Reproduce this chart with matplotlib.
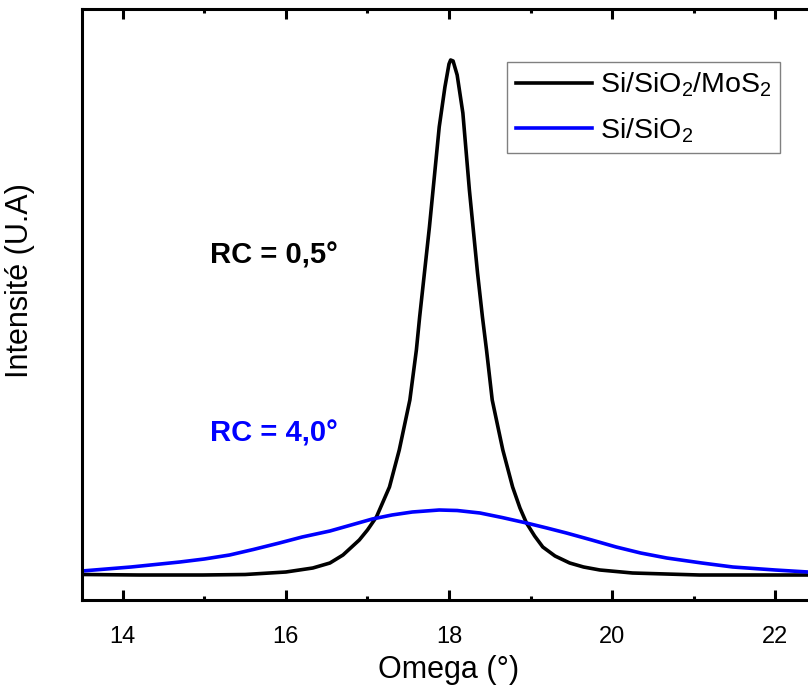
import matplotlib
matplotlib.use("Agg")
import matplotlib.pyplot as plt
from matplotlib.ticker import MultipleLocator, NullLocator

plt.rcParams["font.family"] = ["Liberation Sans", "DejaVu Sans"]
plt.rcParams["mathtext.fontset"] = "custom"
plt.rcParams["mathtext.rm"] = "Liberation Sans"
plt.rcParams["mathtext.it"] = "Liberation Sans:italic"
plt.rcParams["mathtext.bf"] = "Liberation Sans:bold"

# rocking curves (omega in degrees, intensity in a.u.)
omega_mos2 = [13.50, 14.20, 14.98, 15.50, 16.00, 16.33, 16.54, 16.70, 16.90, 17.00,
              17.11, 17.27, 17.39, 17.52, 17.60, 17.64, 17.70, 17.76, 17.82, 17.88,
              17.95, 18.00, 18.02, 18.05, 18.10, 18.17, 18.25, 18.35, 18.41, 18.46,
              18.53, 18.60, 18.66, 18.78, 18.87, 18.95, 19.05, 19.15, 19.30, 19.48,
              19.65, 19.85, 20.25, 21.07, 22.50]
int_mos2 = [255, 250, 250, 255, 280, 320, 370, 450, 600, 700,
            830, 1130, 1500, 2000, 2500, 2830, 3280, 3730, 4230, 4730,
            5130, 5360, 5400, 5390, 5250, 4870, 4100, 3270, 2830, 2500,
            2000, 1730, 1500, 1130, 920, 770, 640, 530, 440, 370,
            330, 300, 270, 250, 250]

omega_sio2 = [13.50, 14.10, 14.70, 15.00, 15.31, 15.60, 15.92, 16.20, 16.54, 16.80,
              17.06, 17.30, 17.55, 17.88, 18.10, 18.38, 18.65, 18.95, 19.20, 19.44,
              19.75, 20.05, 20.35, 20.67, 21.10, 21.48, 22.00, 22.50]
int_sio2 = [290, 330, 380, 410, 450, 505, 570, 630, 690, 750,
            810, 850, 880, 900, 895, 870, 825, 770, 720, 670,
            600, 530, 470, 420, 370, 330, 300, 275]

labels = ["Si/SiO$_\\mathrm{2}$/MoS$_\\mathrm{2}$", "Si/SiO$_\\mathrm{2}$"]
annotations = ["RC = 0,5°", "RC = 4,0°"]

fig = plt.figure(figsize=(8.08, 6.88), dpi=100)
ax = fig.add_axes([82 / 808, 88 / 688, 734 / 808, 591 / 688])

ax.plot(omega_mos2, int_mos2, color="black", lw=2.6, label=labels[0])
ax.plot(omega_sio2, int_sio2, color="#0000ff", lw=2.6, label=labels[1])

ax.set_xlim(13.5, 22.5)
ax.set_ylim(0, 5910)
ax.xaxis.set_major_locator(MultipleLocator(2))
ax.xaxis.set_minor_locator(MultipleLocator(1))
ax.yaxis.set_major_locator(NullLocator())
ax.tick_params(axis="x", which="both", direction="in", top=True, width=2.2, labelsize=17, pad=19)
ax.tick_params(axis="x", which="major", length=7)
ax.tick_params(axis="x", which="minor", length=3)
for sp in ax.spines.values():
    sp.set_linewidth(2.2)

ax.set_xlabel("Omega (°)", fontsize=22, labelpad=5)
ax.set_ylabel("Intensité (U.A)", fontsize=22)
ax.yaxis.set_label_coords(-0.064, 0.54)

ax.text(15.07, 3450, annotations[0], fontsize=21, fontweight="bold", color="black", va="center")
ax.text(15.07, 1670, annotations[1], fontsize=21, fontweight="bold", color="#0000ff", va="center")

leg = ax.legend(loc="upper left", bbox_to_anchor=(0.579, 0.910), borderaxespad=0,
                fontsize=20.5, handlelength=2.7, handletextpad=0.25, borderpad=0.3,
                labelspacing=0.6, fancybox=False, framealpha=1)
leg.get_frame().set_edgecolor("#808080")
leg.get_frame().set_linewidth(1.0)

fig.savefig("out.png", dpi=100)
